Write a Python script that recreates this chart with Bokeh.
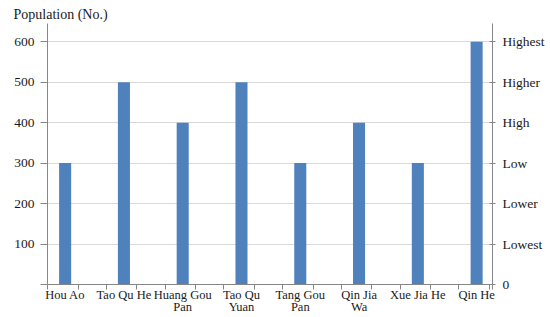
from bokeh.plotting import figure
from bokeh.models import Range1d, LinearAxis, FixedTicker, Title
from bokeh.embed import file_html
from bokeh.resources import INLINE

categories = ["Hou Ao", "Tao Qu He", "Huang Gou\nPan", "Tao Qu\nYuan",
              "Tang Gou\nPan", "Qin Jia\nWa", "Xue Jia He", "Qin He"]
population = [300, 500, 400, 500, 300, 400, 300, 600]
left_ticks = [0, 100, 200, 300, 400, 500, 600]
right_labels = ["0", "Lowest", "Lower", "Low", "High", "Higher", "Highest"]

FONT = "Liberation Serif"
AX = "#868686"
TXT = "#1a1a1a"

xs = list(range(len(categories)))

p = figure(width=550, height=317, output_backend="svg", toolbar_location=None,
           x_range=Range1d(-0.3, 7.27), y_range=Range1d(0, 645),
           min_border_left=47, min_border_right=58, min_border_top=23, min_border_bottom=0)
p.outline_line_color = None
p.background_fill_color = "white"

p.vbar(x=xs, top=population, width=0.205, bottom=0, fill_color="#4F81BD", line_color=None)

# grid
p.xgrid.grid_line_color = None
p.ygrid.grid_line_color = "#D9D9D9"
p.ygrid.ticker = FixedTicker(ticks=left_ticks)

# left axis
ya = p.yaxis[0]
ya.ticker = FixedTicker(ticks=left_ticks)
ya.major_label_overrides = {0: ""}
ya.axis_line_color = AX
ya.major_tick_line_color = AX
ya.major_tick_out = 7
ya.major_tick_in = 0
ya.minor_tick_line_color = None
ya.major_label_text_font = FONT
ya.major_label_text_font_size = "13.5px"
ya.major_label_text_color = TXT
ya.major_label_standoff = 6

# right axis
ra = LinearAxis(ticker=FixedTicker(ticks=left_ticks),
                major_label_overrides={t: lab for t, lab in zip(left_ticks, right_labels)})
ra.axis_line_color = AX
ra.major_tick_line_color = AX
ra.major_tick_out = 3
ra.major_tick_in = 3
ra.minor_tick_line_color = None
ra.major_label_text_font = FONT
ra.major_label_text_font_size = "13.5px"
ra.major_label_text_color = TXT
ra.major_label_standoff = 7
p.add_layout(ra, "right")

# bottom axis
xa = p.xaxis[0]
minor = sorted([i - 0.3 for i in xs] + [i + 0.22 for i in xs] + [7.27])
xa.ticker = FixedTicker(ticks=xs, minor_ticks=minor)
xa.major_label_overrides = {i: c for i, c in zip(xs, categories)}
xa.axis_line_color = AX
xa.major_tick_line_color = None
xa.major_tick_out = 0
xa.minor_tick_line_color = AX
xa.minor_tick_out = 5
xa.minor_tick_in = 0
xa.major_label_text_font = FONT
xa.major_label_text_font_size = "12.5px"
xa.major_label_text_color = TXT
xa.major_label_text_line_height = 0.9
xa.major_label_standoff = -2

t = Title(text="Population (No.)", align="left", offset=-34,
          text_font=FONT, text_font_size="14px", text_font_style="normal",
          text_color=TXT, standoff=4)
p.add_layout(t, "above")

open("out.html", "w").write(file_html(p, INLINE))
